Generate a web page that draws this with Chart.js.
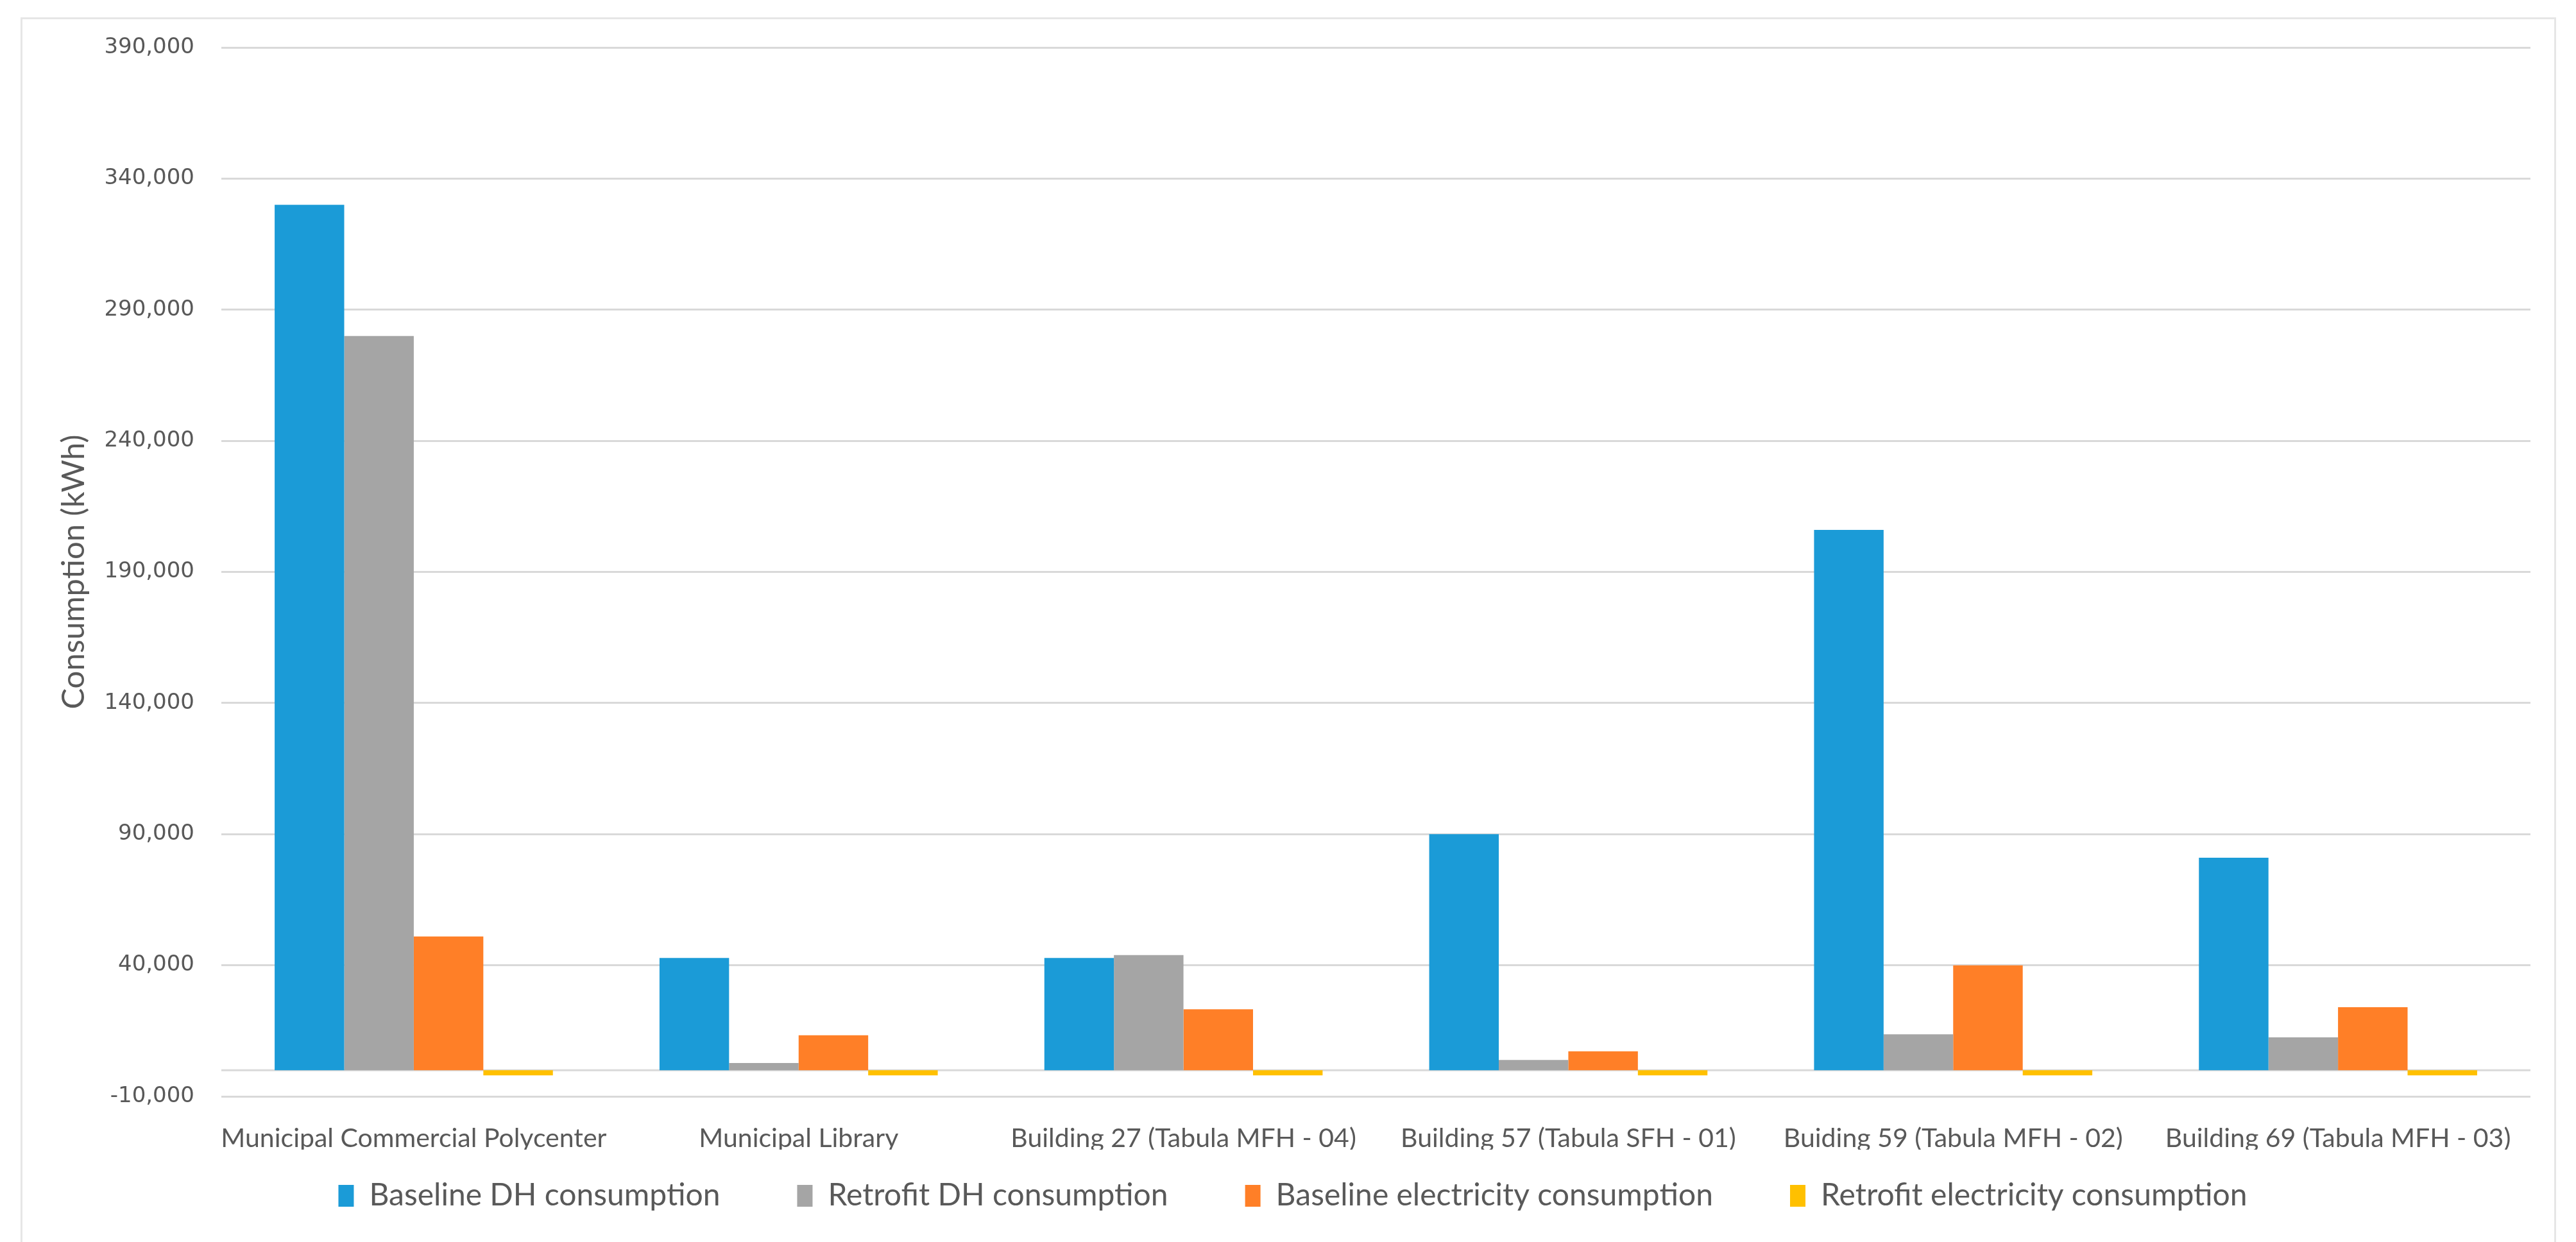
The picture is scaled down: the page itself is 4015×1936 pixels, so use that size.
<!DOCTYPE html>
<html>
<head>
<meta charset="utf-8">
<script src="https://cdn.jsdelivr.net/npm/chart.js@4.4.1/dist/chart.umd.min.js"></script>
<style>
  html, body { margin: 0; padding: 0; background: #fff; }
  #wrap { position: relative; width: 4015px; height: 1936px; overflow: hidden; background: #fff; }
  #frame { position: absolute; left: 32px; top: 27px; width: 3952px; height: 1960px; border: 3px solid #e6e6e6; box-sizing: border-box; }
  canvas { position: absolute; left: 0; top: 0; }
</style>
</head>
<body>
<div id="wrap">
  <div id="frame"></div>
  <canvas id="myChart" width="4015" height="1936"></canvas>
</div>
<script>
  // categories and series
  const buildings = [
    "Municipal Commercial Polycenter",
    "Municipal Library",
    "Building 27 (Tabula MFH - 04)",
    "Building 57 (Tabula SFH - 01)",
    "Buiding 59 (Tabula MFH - 02)",
    "Building 69 (Tabula MFH - 03)",
  ];
  const baselineDH = [330000, 42800, 42800, 90000, 206000, 81000];
  const retrofitDH = [280000, 2700, 43900, 3900, 13700, 12500];
  const baselineElec = [51000, 13300, 23200, 7200, 40000, 24000];
  const retrofitElec = [-2000, -2000, -2000, -2000, -2000, -2000];
  const yTicks = [-10000, 40000, 90000, 140000, 190000, 240000, 290000, 340000, 390000];

  const textColor = "#595959";
  const fontFam = "Lato, 'Open Sans', sans-serif";

  // category axis line at zero
  const zeroLine = {
    id: "zeroLine",
    beforeDatasetsDraw(chart) {
      const { ctx, chartArea, scales } = chart;
      const y = scales.y.getPixelForValue(0);
      ctx.save();
      ctx.strokeStyle = "#d9d9d9";
      ctx.lineWidth = 3;
      ctx.beginPath();
      ctx.moveTo(chartArea.left, y);
      ctx.lineTo(chartArea.right, y);
      ctx.stroke();
      ctx.restore();
    },
  };

  var ctx = document.getElementById("myChart").getContext("2d");
  var chart = new Chart(ctx, {
    type: "bar",
    data: {
      labels: buildings,
      datasets: [
        { label: "Baseline DH consumption", data: baselineDH, backgroundColor: "#1B9BD7" },
        { label: "Retrofit DH consumption", data: retrofitDH, backgroundColor: "#A5A5A5" },
        { label: "Baseline electricity consumption", data: baselineElec, backgroundColor: "#FF7F27" },
        { label: "Retrofit electricity consumption", data: retrofitElec, backgroundColor: "#FFC000" },
      ],
    },
    options: {
      responsive: false,
      animation: false,
      devicePixelRatio: 1,
      datasets: {
        bar: { categoryPercentage: 0.723, barPercentage: 1.0 },
      },
      layout: {
        padding: { left: 86, right: 71, top: 74, bottom: 38 },
      },
      scales: {
        x: {
          grid: { display: false },
          border: { display: false },
          ticks: {
            color: textColor,
            font: { family: fontFam, size: 41 },
            padding: 33,
            maxRotation: 0,
            autoSkip: false,
          },
          afterFit: (scale) => {
            scale.height = 83;
          },
        },
        y: {
          min: -10000,
          max: 390000,
          afterBuildTicks: (scale) => {
            scale.ticks = yTicks.map((v) => ({ value: v }));
          },
          afterFit: (scale) => {
            scale.width = 259;
          },
          grid: { color: "#d9d9d9", lineWidth: 3, drawTicks: false },
          border: { display: false },
          ticks: {
            color: textColor,
            font: { family: "'DejaVu Sans', sans-serif", size: 34 },
            padding: 42,
            callback: (v) => v.toLocaleString("en-US"),
          },
          title: {
            display: true,
            text: "Consumption (kWh)",
            color: textColor,
            font: { family: fontFam, size: 49 },
            padding: { top: 0, bottom: 27 },
          },
        },
      },
      plugins: {
        legend: {
          position: "bottom",
          labels: {
            boxWidth: 24,
            boxHeight: 34,
            padding: 48,
            color: textColor,
            font: { family: fontFam, size: 48 },
            generateLabels: (chart) => {
              const items = Chart.defaults.plugins.legend.labels.generateLabels(chart);
              // wider gap between legend entries, like the original
              items.forEach((it, i) => {
                if (i < items.length - 1) it.text += "\u2003\u2003";
              });
              return items;
            },
          },
        },
        tooltip: { enabled: false },
      },
    },
    plugins: [zeroLine],
  });
</script>
</body>
</html>
